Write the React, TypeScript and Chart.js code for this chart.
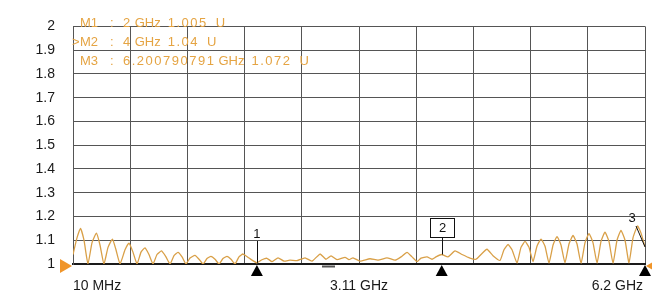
import React, { useEffect, useRef } from "react";
import { Chart, registerables } from "chart.js";

Chart.register(...registerables);

// Trace: frequency (MHz) and SWR value (U)
const freqsMHz = [
  10, 53, 91, 129, 172, 216, 264, 302, 345, 389, 437, 475, 519, 573, 616, 659, 703, 746, 789, 832,
  876, 919, 968, 1016, 1060, 1103, 1146, 1190, 1233, 1276, 1330, 1374, 1417, 1460, 1503, 1547, 1590,
  1633, 1677, 1720, 1763, 1806, 1850, 1915, 2000,
  2055, 2109, 2164, 2229, 2294, 2358, 2434, 2521, 2596, 2683, 2748, 2802, 2867, 2954, 2997, 3040,
  3116, 3224, 3311, 3408, 3495, 3560, 3625, 3679, 3733, 3776, 3841, 3895, 3938, 4000,
  4068, 4144, 4220, 4306, 4371, 4425, 4490, 4555, 4631,
  4674, 4718, 4761, 4815, 4858, 4902, 4945, 4988, 5031, 5075, 5118, 5161, 5205, 5248, 5291, 5334,
  5378, 5421, 5464, 5508, 5551, 5594, 5637, 5681, 5724, 5767, 5810, 5854, 5897, 5940, 5984, 6027,
  6070, 6119, 6157, 6200,
];
const swrValues = [
  1.04, 1.11, 1.15, 1.1, 1.0, 1.09, 1.13, 1.08, 1.0, 1.07, 1.105, 1.06, 1.0, 1.06, 1.088, 1.05, 1.0,
  1.05, 1.068, 1.04, 1.0, 1.04, 1.055, 1.03, 1.0, 1.035, 1.049, 1.03, 1.0, 1.025, 1.036, 1.02, 1.0,
  1.023, 1.032, 1.02, 1.0, 1.023, 1.032, 1.02, 1.0, 1.03, 1.042, 1.025, 1.005,
  1.018, 1.024, 1.01, 1.026, 1.012, 1.016, 1.014, 1.026, 1.012, 1.042, 1.02, 1.034, 1.018, 1.028,
  1.018, 1.026, 1.012, 1.022, 1.016, 1.026, 1.016, 1.03, 1.049, 1.03, 1.01, 1.025, 1.03, 1.02, 1.03,
  1.04,
  1.03, 1.055, 1.04, 1.025, 1.02, 1.04, 1.062, 1.035, 1.015,
  1.06, 1.082, 1.06, 1.004, 1.07, 1.095, 1.07, 1.01, 1.075, 1.105, 1.075, 1.004, 1.08, 1.115, 1.08,
  1.005, 1.085, 1.12, 1.085, 1.003, 1.09, 1.128, 1.09, 1.004, 1.095, 1.134, 1.095, 1.003, 1.1, 1.141,
  1.1, 1.005, 1.11, 1.16, 1.13, 1.072,
];

// Axis
const xMinMHz = 10;
const xMaxMHz = 6200;
const xDivisions = 10;
const yMin = 1;
const yMax = 2;
const yStep = 0.1;
const xTickLabels = ["10 MHz", "3.11 GHz", "6.2 GHz"];
const xTickLabelFreqs = [10, 3105, 6200];

// Markers
const markerNames = ["M1", "M2", "M3"];
const markerFreqsMHz = [2000, 4000, 6200.790791];
const markerFreqNumbers = ["2", "4", "6.200790791"];
const markerFreqUnit = "GHz";
const markerValues = [1.005, 1.04, 1.072];
const markerUnit = "U";
const activeMarker = 1;

const ORANGE_TEXT = "#E5A443";
const TRACE = "#D9A048";
const GRID = "#555555";
const FONT = "'Liberation Sans', Arial, sans-serif";

export default function App() {
  const ref = useRef<HTMLCanvasElement | null>(null);

  useEffect(() => {
    if (!ref.current) return;

    const overlay = {
      id: "overlay",
      afterDraw(chart: any) {
        const ctx = chart.ctx as CanvasRenderingContext2D & { letterSpacing?: string };
        const xs = chart.scales.x;
        const ys = chart.scales.y;
        const area = chart.chartArea;
        ctx.save();

        // marker readout text
        ctx.font = `13px ${FONT}`;
        ctx.fillStyle = ORANGE_TEXT;
        ctx.textBaseline = "middle";
        ctx.textAlign = "left";
        const rowY = [23, 42, 61];
        const drawSpaced = (t: string, x: number, y: number) => {
          ctx.letterSpacing = "1.5px";
          ctx.fillText(t, x, y);
          const w = ctx.measureText(t).width;
          ctx.letterSpacing = "0px";
          return w;
        };
        markerNames.forEach((name, i) => {
          const y = rowY[i];
          if (i === activeMarker) ctx.fillText(">", 72, y);
          ctx.fillText(name, 80, y);
          ctx.fillText(":", 110, y);
          let x = 123;
          x += drawSpaced(markerFreqNumbers[i], x, y) + 3;
          ctx.fillText(markerFreqUnit, x, y);
          x += ctx.measureText(markerFreqUnit).width + 7;
          x += drawSpaced(String(markerValues[i]), x, y) + 8;
          ctx.fillText(markerUnit, x, y);
        });

        // reference level triangles (orange)
        const yRef = ys.getPixelForValue(yMin) + 2;
        ctx.fillStyle = "#F0952A";
        ctx.beginPath();
        ctx.moveTo(area.left - 1, yRef);
        ctx.lineTo(area.left - 13, yRef - 7);
        ctx.lineTo(area.left - 13, yRef + 7);
        ctx.closePath();
        ctx.fill();
        ctx.beginPath();
        ctx.moveTo(area.right + 1, yRef);
        ctx.lineTo(area.right + 13, yRef - 7);
        ctx.lineTo(area.right + 13, yRef + 7);
        ctx.closePath();
        ctx.fill();

        // small dash under centre
        const xc = xs.getPixelForValue(xTickLabelFreqs[1]);
        ctx.strokeStyle = "#555";
        ctx.lineWidth = 2;
        ctx.beginPath();
        ctx.moveTo(xc - 37, area.bottom + 2.5);
        ctx.lineTo(xc - 24, area.bottom + 2.5);
        ctx.stroke();

        // markers
        ctx.strokeStyle = "#111";
        ctx.lineWidth = 1;
        markerFreqsMHz.forEach((f, i) => {
          const px = Math.min(xs.getPixelForValue(f), area.right);
          const py = ys.getPixelForValue(markerValues[i]);
          ctx.fillStyle = "#000";
          ctx.beginPath();
          ctx.moveTo(px, area.bottom + 1);
          ctx.lineTo(px - 6, area.bottom + 12);
          ctx.lineTo(px + 6, area.bottom + 12);
          ctx.closePath();
          ctx.fill();

          ctx.font = `13px ${FONT}`;
          ctx.textAlign = "center";
          ctx.textBaseline = "middle";
          ctx.fillStyle = "#111";
          if (i === 0) {
            ctx.fillText("1", px, 234);
            ctx.beginPath();
            ctx.moveTo(Math.round(px) + 0.5, 241);
            ctx.lineTo(Math.round(px) + 0.5, py);
            ctx.stroke();
          } else if (i === 1) {
            const bx = Math.round(px) + 0.5;
            ctx.fillStyle = "#fff";
            ctx.fillRect(bx - 12, 218.5, 24, 19);
            ctx.strokeRect(bx - 12, 218.5, 24, 19);
            ctx.fillStyle = "#111";
            ctx.fillText("2", bx, 228);
            ctx.beginPath();
            ctx.moveTo(bx, 237.5);
            ctx.lineTo(bx, py);
            ctx.stroke();
          } else {
            ctx.fillText("3", px - 13, 218);
            ctx.beginPath();
            ctx.moveTo(px - 9, 226);
            ctx.lineTo(px, py);
            ctx.stroke();
          }
        });

        // x labels
        ctx.font = `14px ${FONT}`;
        ctx.fillStyle = "#1a1a1a";
        ctx.textBaseline = "middle";
        xTickLabels.forEach((t, i) => {
          const px = xs.getPixelForValue(xTickLabelFreqs[i]);
          ctx.textAlign = i === 0 ? "left" : i === xTickLabels.length - 1 ? "right" : "center";
          ctx.fillText(t, px + (i === xTickLabels.length - 1 ? -2 : 0), 286);
        });

        ctx.restore();
      },
    };

    const chart = new Chart(ref.current, {
      type: "line",
      data: {
        datasets: [
          {
            data: freqsMHz.map((f, i) => ({ x: f, y: swrValues[i] })),
            borderColor: TRACE,
            borderWidth: 1.3,
            pointRadius: 0,
            tension: 0.15,
            fill: false,
          },
        ],
      },
      options: {
        animation: false,
        responsive: false,
        devicePixelRatio: 1,
        layout: { padding: { top: 12, right: 7, left: 0, bottom: 0 } },
        plugins: { legend: { display: false }, tooltip: { enabled: false } },
        scales: {
          x: {
            type: "linear",
            min: xMinMHz,
            max: xMaxMHz,
            afterBuildTicks: (s: any) => {
              s.ticks = Array.from({ length: xDivisions + 1 }, (_, i) => ({
                value: xMinMHz + (i * (xMaxMHz - xMinMHz)) / xDivisions,
              }));
            },
            afterFit: (s: any) => {
              s.height = 34;
            },
            ticks: { display: false },
            grid: { color: GRID, lineWidth: 1, drawTicks: false },
            border: { display: true, color: "#1a1a1a", width: 2 },
          },
          y: {
            min: yMin,
            max: yMax,
            afterFit: (s: any) => {
              s.width = 73;
            },
            ticks: {
              stepSize: yStep,
              padding: 18,
              color: "#1a1a1a",
              font: { family: FONT, size: 14 },
              callback: (v: any) => String(Math.round(Number(v) * 10) / 10),
            },
            grid: { color: GRID, lineWidth: 1, drawTicks: false },
            border: { display: true, color: GRID, width: 1 },
          },
        },
      },
      plugins: [overlay],
    });

    return () => chart.destroy();
  }, []);

  return (
    <div style={{ position: "absolute", left: 0, top: 0, width: 652, height: 298, background: "#fff" }}>
      <canvas ref={ref} width={652} height={298} style={{ width: 652, height: 298 }} />
    </div>
  );
}
